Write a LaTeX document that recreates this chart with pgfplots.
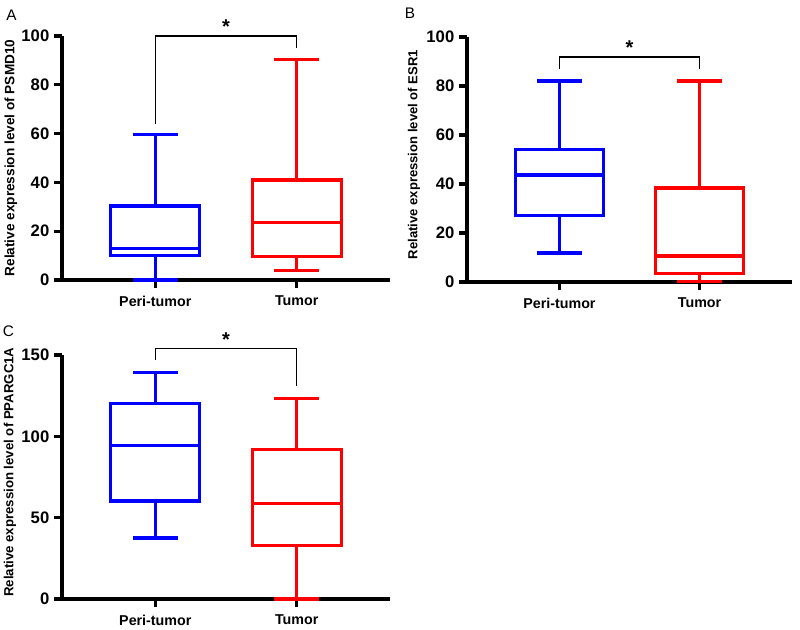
\documentclass[border=0pt]{standalone}
\usepackage{fontspec}
\setmainfont{Liberation Sans}
\usepackage{pgfplots}
\pgfplotsset{compat=1.18}
\usepgfplotslibrary{statistics}
\definecolor{pblue}{RGB}{0,0,255}
\definecolor{pred}{RGB}{255,0,0}
\pgfplotsset{
 myaxis/.style={
  scale only axis,
  axis x line=bottom, axis y line=left,
  axis line style={line width=2.3pt,-},
  xmin=0.34, xmax=2.66,
  xtick={1,2}, xticklabels={Peri-tumor,Tumor},
  x tick label style={font=\bfseries\fontsize{10.7}{12}\selectfont, yshift=-2.5pt},
  y tick label style={font=\bfseries\fontsize{12.5}{14}\selectfont},
  /pgf/number format/assume math mode=true,
  tick align=outside, major tick length=6pt,
  tick style={line width=2.3pt,black},
  clip=false,
  boxplot/draw direction=y,
 },
 bx/.style={line width=2.4pt, boxplot/box extend=0.63, boxplot/whisker extend=0.32},
}
\begin{document}
\begin{tikzpicture}
\useasboundingbox (0,0) rectangle (600pt,472.5pt);
% Panel A
\begin{axis}[myaxis, at={(46.5pt,262.5pt)}, anchor=south west, width=246pt, height=183pt,
  ymin=0, ymax=100, ytick={0,20,...,100},
  ylabel={Relative expression level of PSMD10},
  ylabel style={font=\bfseries\fontsize{10.2}{12}\selectfont, at={(axis description cs:-0.156,0.5)}, anchor=center}]
\addplot[pblue, bx, boxplot prepared={draw position=1, median=13, upper quartile=30.3, lower quartile=10, upper whisker=59.5, lower whisker=0}] coordinates {};
\addplot[pred, bx, boxplot prepared={draw position=2, median=23.5, upper quartile=41, lower quartile=9.5, upper whisker=90.3, lower whisker=4}] coordinates {};
\draw[line width=1pt] (axis cs:1,64) |- (axis cs:2,100) -- (axis cs:2,95);
\node[font=\bfseries\fontsize{15}{15}\selectfont, anchor=base] at (axis cs:1.5,101) {*};
\end{axis}
% Panel B
\begin{axis}[myaxis, at={(350.25pt,261pt)}, anchor=south west, width=243.75pt, height=183.75pt,
  ymin=0, ymax=100, ytick={0,20,...,100},
  ylabel={Relative expression level of ESR1},
  ylabel style={font=\bfseries\fontsize{9.8}{12}\selectfont, at={(axis description cs:-0.163,0.52)}, anchor=center}]
\addplot[pblue, bx, boxplot prepared={draw position=1, median=43.7, upper quartile=54, lower quartile=27, upper whisker=82, lower whisker=11.8}] coordinates {};
\addplot[pred, bx, boxplot prepared={draw position=2, median=10.6, upper quartile=38.4, lower quartile=3.5, upper whisker=82, lower whisker=0.3}] coordinates {};
\draw[line width=1pt] (axis cs:1,87) |- (axis cs:2,91.8) -- (axis cs:2,87);
\node[font=\bfseries\fontsize{15}{15}\selectfont, anchor=base] at (axis cs:1.5,93) {*};
\end{axis}
% Panel C
\begin{axis}[myaxis, at={(46.5pt,23.25pt)}, anchor=south west, width=246pt, height=183pt,
  ymin=0, ymax=150, ytick={0,50,100,150},
  ylabel={Relative expression level of PPARGC1A},
  ylabel style={font=\bfseries\fontsize{9.9}{12}\selectfont, at={(axis description cs:-0.159,0.52)}, anchor=center}]
\addplot[pblue, bx, boxplot prepared={draw position=1, median=94.5, upper quartile=120, lower quartile=60.2, upper whisker=139, lower whisker=37.5}] coordinates {};
\addplot[pred, bx, boxplot prepared={draw position=2, median=58.8, upper quartile=92, lower quartile=33, upper whisker=123.3, lower whisker=0}] coordinates {};
\draw[line width=1pt] (axis cs:1,147) |- (axis cs:2,154) -- (axis cs:2,131);
\node[font=\bfseries\fontsize{15}{15}\selectfont, anchor=base] at (axis cs:1.5,155) {*};
\end{axis}
% Panel letters
\node[font=\fontsize{11.5}{12}\selectfont] at (8.6pt,461.25pt) {A};
\node[font=\fontsize{11.5}{12}\selectfont] at (307.5pt,462.75pt) {B};
\node[font=\fontsize{11.5}{12}\selectfont] at (6.4pt,224.25pt) {C};
\end{tikzpicture}
\end{document}
